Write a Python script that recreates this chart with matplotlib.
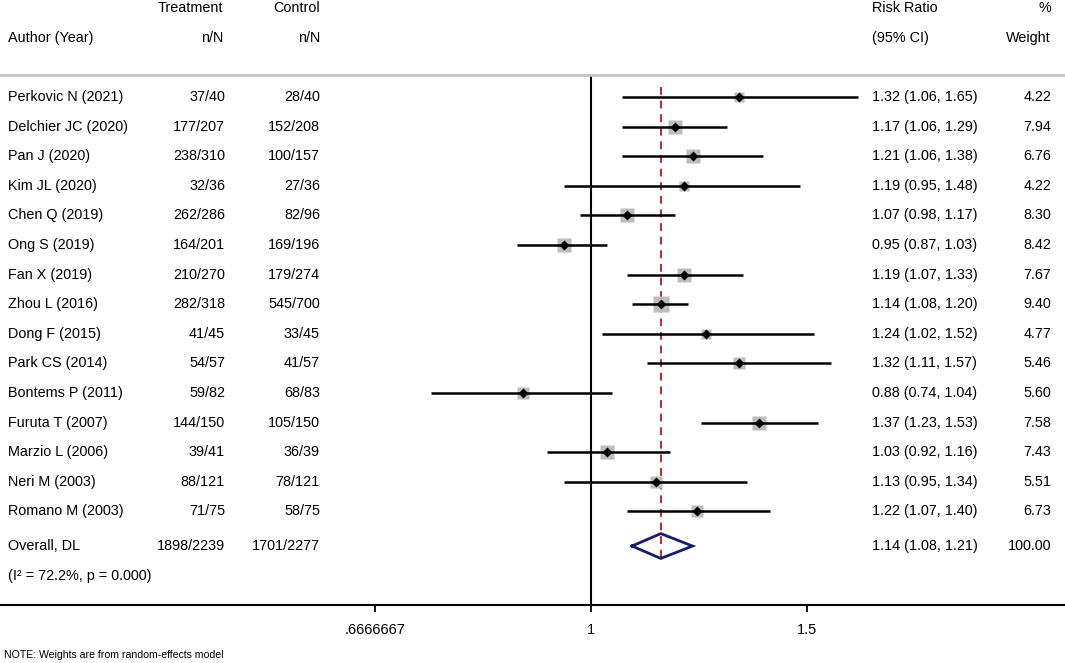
import numpy as np
import matplotlib
matplotlib.use("Agg")
import matplotlib.pyplot as plt
import matplotlib.transforms as mtransforms

studies = ["Perkovic N (2021)", "Delchier JC (2020)", "Pan J (2020)", "Kim JL (2020)",
           "Chen Q (2019)", "Ong S (2019)", "Fan X (2019)", "Zhou L (2016)",
           "Dong F (2015)", "Park CS (2014)", "Bontems P (2011)", "Furuta T (2007)",
           "Marzio L (2006)", "Neri M (2003)", "Romano M (2003)"]
treatment = ["37/40", "177/207", "238/310", "32/36", "262/286", "164/201", "210/270",
             "282/318", "41/45", "54/57", "59/82", "144/150", "39/41", "88/121", "71/75"]
control = ["28/40", "152/208", "100/157", "27/36", "82/96", "169/196", "179/274",
           "545/700", "33/45", "41/57", "68/83", "105/150", "36/39", "78/121", "58/75"]
rr = [1.32, 1.17, 1.21, 1.19, 1.07, 0.95, 1.19, 1.14, 1.24, 1.32, 0.88, 1.37, 1.03, 1.13, 1.22]
lo = [1.06, 1.06, 1.06, 0.95, 0.98, 0.87, 1.07, 1.08, 1.02, 1.11, 0.74, 1.23, 0.92, 0.95, 1.07]
hi = [1.65, 1.29, 1.38, 1.48, 1.17, 1.03, 1.33, 1.20, 1.52, 1.57, 1.04, 1.53, 1.16, 1.34, 1.40]
weight = [4.22, 7.94, 6.76, 4.22, 8.30, 8.42, 7.67, 9.40, 4.77, 5.46, 5.60, 7.58, 7.43, 5.51, 6.73]

overall_label = "Overall, DL"
overall_treat = "1898/2239"
overall_ctrl = "1701/2277"
overall_rr, overall_lo, overall_hi, overall_w = 1.14, 1.08, 1.21, 100.00
het_text = "(I\u00b2 = 72.2%, p = 0.000)"

xticks = [2/3, 1, 1.5]
xticklabels = [".6666667", "1", "1.5"]

plt.rcParams['font.family'] = ['Liberation Sans', 'DejaVu Sans']

W, H = 1065, 663
fig = plt.figure(figsize=(W/100, H/100), dpi=100)
top_px, bot_px = 75, 605
ax = fig.add_axes([0, 1 - bot_px/H, 1, (bot_px - top_px)/H])

# row mapping: pixel = 67.4 + 29.6*row
r0, dr = 67.4, 29.6
ax.set_ylim((bot_px - r0)/dr, (top_px - r0)/dr)
ax.set_xscale('log')
ax.set_xlim(np.exp(-591/532.7), np.exp((W-591)/532.7))

rows = np.arange(1, len(studies) + 1)
row_overall = 16.17
row_het = 17.18

# vertical line at 1
ax.axvline(1, color='black', lw=1.5, zorder=1)
# pooled dashed line
ax.plot([overall_rr, overall_rr], [0.66, row_overall + 0.42], color='#c0272d',
        lw=1.4, ls=(0, (4, 3)), zorder=2)

# CIs, boxes, points
for r, m, l, h, w in zip(rows, rr, lo, hi, weight):
    ax.plot([l, h], [r, r], color='black', lw=1.8, zorder=3, solid_capstyle='butt')
    ax.plot([m], [r], marker='s', ms=3.6*np.sqrt(w), color='#bdbdbd', mec='none', zorder=2.5)
    ax.plot([m], [r], marker='D', ms=5.6, color='black', mec='none', zorder=4)

# overall diamond
dh = 0.42
ax.plot([overall_lo, overall_rr, overall_hi, overall_rr, overall_lo],
        [row_overall, row_overall - dh, row_overall, row_overall + dh, row_overall],
        color='#1b1b6b', lw=2.0, zorder=5, solid_joinstyle='miter')

# spines / ticks
for s in ['left', 'right']:
    ax.spines[s].set_visible(False)
ax.spines['top'].set_color('#c4c4c4')
ax.spines['top'].set_linewidth(2.0)
ax.spines['bottom'].set_color('black')
ax.spines['bottom'].set_linewidth(1.5)
ax.set_yticks([])
ax.set_xticks(xticks)
ax.set_xticklabels(xticklabels)
ax.xaxis.set_minor_locator(matplotlib.ticker.NullLocator())
ax.tick_params(axis='x', direction='out', length=5, width=1.3, pad=8, labelsize=10.5)

# text columns
tr = mtransforms.blended_transform_factory(fig.transFigure, ax.transData)
fs = 10.4
def col(xpx, y, s, ha):
    ax.text(xpx/W, y, s, transform=tr, ha=ha, va='center', fontsize=fs, clip_on=False)

col(223, -2, "Treatment", 'right')
col(320, -2, "Control", 'right')
col(872, -2, "Risk Ratio", 'left')
col(1051, -2, "%", 'right')
col(8, -1, "Author (Year)", 'left')
col(223, -1, "n/N", 'right')
col(320, -1, "n/N", 'right')
col(872, -1, "(95% CI)", 'left')
col(1051, -1, "Weight", 'right')

for r, s, t, c, m, l, h, w in zip(rows, studies, treatment, control, rr, lo, hi, weight):
    col(8, r, s, 'left')
    col(225, r, t, 'right')
    col(320, r, c, 'right')
    col(872, r, f"{m:.2f} ({l:.2f}, {h:.2f})", 'left')
    col(1051, r, f"{w:.2f}", 'right')

col(8, row_overall, overall_label, 'left')
col(225, row_overall, overall_treat, 'right')
col(320, row_overall, overall_ctrl, 'right')
col(872, row_overall, f"{overall_rr:.2f} ({overall_lo:.2f}, {overall_hi:.2f})", 'left')
col(1051, row_overall, f"{overall_w:.2f}", 'right')
col(8, row_het, het_text, 'left')

fig.text(4/W, 1 - 655/H, "NOTE: Weights are from random-effects model", fontsize=7.6,
         ha='left', va='center')

fig.savefig("out.png", dpi=100)
